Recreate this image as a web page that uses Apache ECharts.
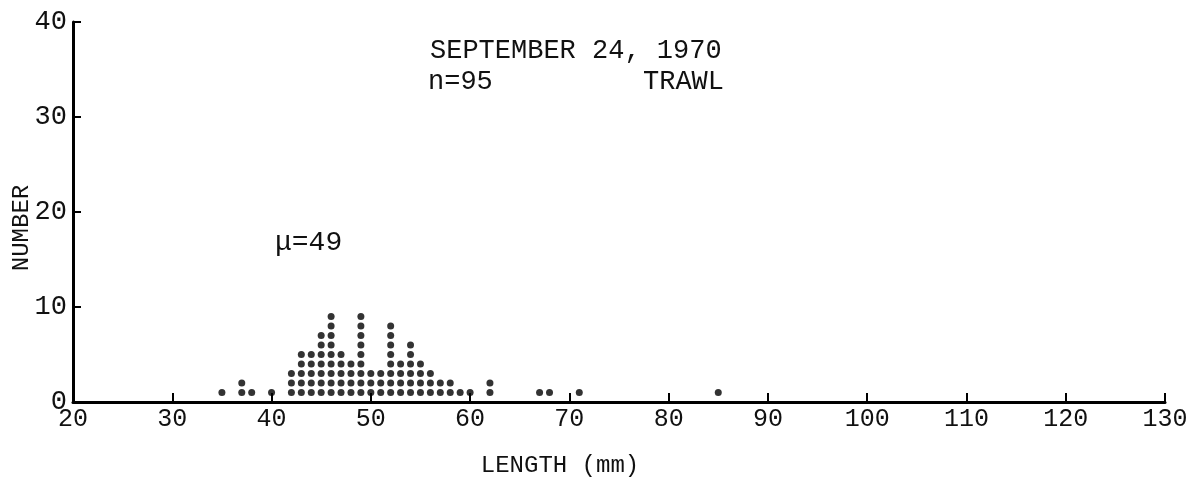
<!DOCTYPE html>
<html>
<head>
<meta charset="utf-8">
<script src="https://cdn.jsdelivr.net/npm/echarts@6/dist/echarts.min.js"></script>
<style>
  html, body { margin: 0; padding: 0; background: #fff; }
  #chart { width: 1194px; height: 482px; }
</style>
</head>
<body>
<div id="chart"></div>
<script>
// length classes (mm) and how many fish were caught in each
const lengths = [35, 37, 38, 40, 42, 43, 44, 45, 46, 47, 48, 49, 50, 51, 52, 53, 54, 55, 56, 57, 58, 59, 60, 62, 67, 68, 71, 85]
const counts  = [ 1,  2,  1,  1,  3,  5,  5,  7,  9,  5,  4,  9,  3,  3,  8,  4,  6,  4,  3,  2,  2,  1,  1,  2,  1,  1,  1,  1]

const xTicks = [20, 30, 40, 50, 60, 70, 80, 90, 100, 110, 120, 130]
const yTicks = [0, 10, 20, 30, 40]

const FONT = '"Liberation Mono", "DejaVu Sans Mono", monospace'
const INK = '#111'

// one dot per fish, stacked
const dots = []
lengths.forEach((len, i) => {
  for (let k = 1; k <= counts[i]; k++) {
    dots.push([len, k])
  }
})

const chart = echarts.init(document.getElementById('chart'))
chart.setOption({
  animation: false,
  backgroundColor: '#fff',
  grid: { left: 73, right: 29, top: 22, bottom: 80 },
  xAxis: {
    type: 'value',
    min: xTicks[0],
    max: xTicks[xTicks.length - 1],
    interval: 10,
    axisLine: { lineStyle: { color: '#000', width: 3 } },
    axisTick: { inside: true, length: 9, lineStyle: { color: '#000', width: 2 } },
    axisLabel: { color: INK, fontFamily: FONT, fontSize: 25, margin: 5 },
    splitLine: { show: false }
  },
  yAxis: {
    type: 'value',
    min: yTicks[0],
    max: yTicks[yTicks.length - 1],
    interval: 10,
    axisLine: { lineStyle: { color: '#000', width: 3 } },
    axisTick: { inside: true, length: 8, lineStyle: { color: '#000', width: 2 } },
    axisLabel: { color: INK, fontFamily: FONT, fontSize: 27, margin: 6 },
    splitLine: { show: false }
  },
  graphic: [
    { type: 'text', left: 430, top: 37, style: { text: 'SEPTEMBER 24, 1970', font: '27px ' + FONT, fill: INK } },
    { type: 'text', left: 428, top: 68, style: { text: 'n=95', font: '27px ' + FONT, fill: INK } },
    { type: 'text', left: 643, top: 68, style: { text: 'TRAWL', font: '27px ' + FONT, fill: INK } },
    { type: 'text', left: 275, top: 229, style: { text: 'μ=49', font: '28px ' + FONT, fill: INK } },
    {
      type: 'text', x: 22, y: 228, rotation: Math.PI / 2,
      style: { text: 'NUMBER', font: '24px ' + FONT, fill: INK, align: 'center', verticalAlign: 'middle' }
    },
    {
      type: 'text', x: 560, y: 466,
      style: { text: 'LENGTH (mm)', font: '24px ' + FONT, fill: INK, align: 'center', verticalAlign: 'middle' }
    }
  ],
  series: [
    {
      type: 'scatter',
      data: dots,
      symbol: 'circle',
      symbolSize: 7,
      itemStyle: { color: '#000' }
    }
  ]
})
</script>
</body>
</html>
